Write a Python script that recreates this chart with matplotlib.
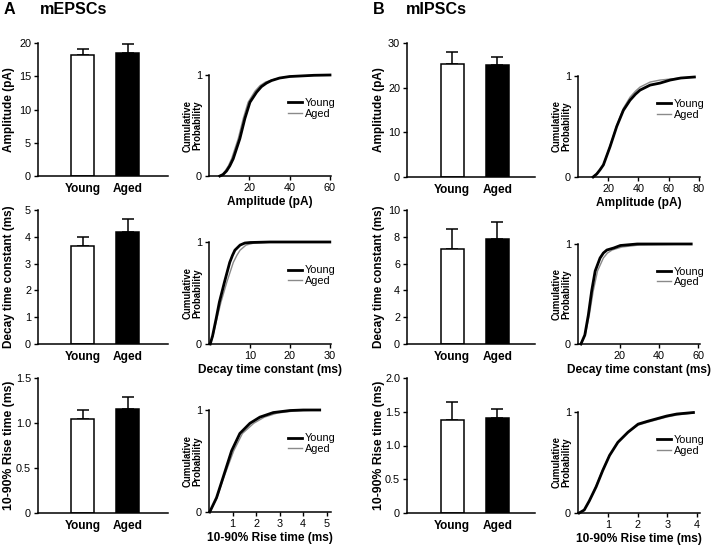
import matplotlib
matplotlib.use('Agg')
import matplotlib.pyplot as plt

plt.rcParams['font.family'] = ['Liberation Sans', 'DejaVu Sans']

groups = ['Young', 'Aged']

# bar graphs: mean and upper error (SEM)
epsc_amp = [18.2, 18.5]
epsc_amp_err = [0.9, 1.4]
epsc_decay = [3.65, 4.18]
epsc_decay_err = [0.33, 0.48]
epsc_rise = [1.04, 1.16]
epsc_rise_err = [0.10, 0.13]

ipsc_amp = [25.3, 25.0]
ipsc_amp_err = [2.7, 1.8]
ipsc_decay = [7.1, 7.8]
ipsc_decay_err = [1.45, 1.3]
ipsc_rise = [1.38, 1.41]
ipsc_rise_err = [0.27, 0.13]

# cumulative distributions
epsc_amp_young_x = [5.4, 7, 8.7, 10.3, 12, 15.3, 17.8, 20.3, 23.6, 26, 28.5, 31, 35, 40, 45, 52, 60]
epsc_amp_young_y = [0, 0.015, 0.05, 0.1, 0.17, 0.37, 0.57, 0.73, 0.83, 0.885, 0.92, 0.945, 0.97, 0.985, 0.99, 0.997, 1.0]
epsc_amp_aged_x = [5, 6.6, 8, 9.6, 11.2, 14.5, 17, 19.4, 22.8, 25.3, 28, 31, 35, 40, 45, 52, 60]
epsc_amp_aged_y = [0, 0.015, 0.05, 0.1, 0.17, 0.37, 0.57, 0.73, 0.84, 0.895, 0.93, 0.95, 0.97, 0.985, 0.99, 0.997, 1.0]

ipsc_amp_young_x = [10, 12.4, 14.5, 16.8, 21.2, 25.6, 30, 34.4, 38, 41, 47.7, 54.3, 61, 68, 77]
ipsc_amp_young_y = [0, 0.03, 0.07, 0.12, 0.30, 0.50, 0.66, 0.76, 0.82, 0.86, 0.91, 0.93, 0.96, 0.98, 0.99]
ipsc_amp_aged_x = [10, 12.4, 14.5, 16.8, 21.2, 25.6, 30, 34.4, 38, 41, 47.7, 54.3, 61, 68, 77]
ipsc_amp_aged_y = [0, 0.03, 0.07, 0.12, 0.31, 0.51, 0.68, 0.79, 0.85, 0.89, 0.94, 0.96, 0.97, 0.98, 0.99]

epsc_decay_young_x = [0, 0.6, 1.5, 2.3, 3.6, 4.9, 5.6, 6.2, 7.5, 8.7, 10, 15, 30]
epsc_decay_young_y = [0, 0.08, 0.25, 0.41, 0.61, 0.80, 0.87, 0.92, 0.97, 0.99, 0.995, 1.0, 1.0]
epsc_decay_aged_x = [0, 0.7, 1.7, 2.7, 4.2, 5.8, 6.7, 7.5, 9, 11, 15, 30]
epsc_decay_aged_y = [0, 0.08, 0.25, 0.41, 0.61, 0.80, 0.87, 0.92, 0.97, 0.99, 0.998, 1.0]

ipsc_decay_young_x = [0, 2, 3.8, 5.5, 7.3, 9.8, 11.5, 13.3, 16.8, 20.2, 28.8, 56.5]
ipsc_decay_young_y = [0, 0.09, 0.29, 0.53, 0.73, 0.86, 0.91, 0.94, 0.96, 0.985, 1.0, 1.0]
ipsc_decay_aged_x = [0, 2.2, 4.3, 6.3, 8.5, 11.5, 13.6, 16, 21, 30, 56.5]
ipsc_decay_aged_y = [0, 0.09, 0.29, 0.53, 0.73, 0.86, 0.91, 0.94, 0.97, 0.99, 1.0]

epsc_rise_young_x = [0.03, 0.32, 0.6, 0.96, 1.31, 1.74, 2.16, 2.73, 3.44, 4.0, 4.7]
epsc_rise_young_y = [0, 0.14, 0.34, 0.60, 0.77, 0.87, 0.93, 0.975, 0.995, 1.0, 1.0]
epsc_rise_aged_x = [0.03, 0.34, 0.63, 1.05, 1.42, 1.9, 2.35, 2.9, 3.6, 4.1, 4.7]
epsc_rise_aged_y = [0, 0.14, 0.34, 0.60, 0.77, 0.87, 0.93, 0.97, 0.99, 0.995, 1.0]

ipsc_rise_young_x = [0.04, 0.21, 0.38, 0.61, 0.83, 1.06, 1.34, 1.68, 2.02, 2.36, 2.98, 3.32, 3.88]
ipsc_rise_young_y = [0, 0.03, 0.12, 0.26, 0.42, 0.57, 0.70, 0.80, 0.88, 0.91, 0.96, 0.98, 0.995]
ipsc_rise_aged_x = [0.04, 0.21, 0.38, 0.61, 0.83, 1.06, 1.34, 1.68, 2.02, 2.36, 2.98, 3.32, 3.88]
ipsc_rise_aged_y = [0, 0.03, 0.12, 0.27, 0.43, 0.57, 0.70, 0.80, 0.87, 0.90, 0.95, 0.97, 0.99]

W, H = 720, 547
fig = plt.figure(figsize=(7.2, 5.47), dpi=100)


def px_axes(left, top, right, bottom):
    # axes placed by pixel edges of the reference
    return fig.add_axes([left / W, 1 - bottom / H, (right - left) / W, (bottom - top) / H])


def style(ax):
    for s in ['top', 'right']:
        ax.spines[s].set_visible(False)
    for s in ['left', 'bottom']:
        ax.spines[s].set_linewidth(1.1)
    ax.tick_params(direction='out', width=1.0, length=3, labelsize=7.8, pad=2)


def bar_panel(ax, vals, errs, ylim, yticks, yticklabels, ylabel, xlim, lsize=8.5):
    style(ax)
    ax.bar([0, 1], vals, width=0.51, color=['white', 'black'], edgecolor='black', linewidth=1.1, zorder=2)
    ax.errorbar([0, 1], vals, yerr=[[0, 0], errs], fmt='none', ecolor='black', elinewidth=1.1,
                capsize=4, capthick=1.1, zorder=1)
    ax.set_xlim(xlim)
    ax.set_ylim(ylim)
    ax.set_yticks(yticks)
    ax.set_yticklabels(yticklabels)
    ax.set_xticks([0, 1])
    ax.set_xticklabels(groups, fontweight='bold', fontsize=8.6)
    ax.tick_params(axis='x', length=0, pad=5)
    ax.set_ylabel(ylabel, fontweight='bold', fontsize=lsize)
    ax.yaxis.set_label_coords(-0.175, 0.5)


def cum_panel(ax, yx, yy, ax_, ay, xlim, xticks, xlabel):
    style(ax)
    line, = ax.plot(yx, yy, color='black', lw=2.0, clip_on=False, zorder=3)
    line.set_label('Young')
    line, = ax.plot(ax_, ay, color='#8a8a8a', lw=1.0, clip_on=False, zorder=2)
    line.set_label('Aged')
    ax.set_xlim(xlim)
    ax.set_ylim(0, 1)
    ax.set_xticks(xticks)
    ax.set_yticks([0, 1])
    ax.set_yticklabels(['0', '1'])
    ax.set_xlabel(xlabel, fontweight='bold', fontsize=8.6, labelpad=2)
    ax.set_ylabel('Cumulative\nProbability', fontweight='bold', fontsize=6.9, linespacing=1.0)
    ax.yaxis.set_label_coords(-0.055, 0.5)
    ax.legend(loc='center left', bbox_to_anchor=(0.6, 0.67), frameon=False, fontsize=7.8,
              handlelength=1.3, handletextpad=0.3, labelspacing=0.05, borderpad=0)


# column A: mEPSCs
ax = px_axes(38, 43, 168, 176)
bar_panel(ax, epsc_amp, epsc_amp_err, (0, 20), [0, 5, 10, 15, 20], ['0', '5', '10', '15', '20'],
          'Amplitude (pA)', (-0.99, 1.9))
ax = px_axes(38, 210, 168, 344)
bar_panel(ax, epsc_decay, epsc_decay_err, (0, 5), [0, 1, 2, 3, 4, 5], ['0', '1', '2', '3', '4', '5'],
          'Decay time constant (ms)', (-0.99, 1.9))
ax = px_axes(38, 378, 168, 513)
bar_panel(ax, epsc_rise, epsc_rise_err, (0, 1.5), [0, 0.5, 1.0, 1.5], ['0', '0.5', '1.0', '1.5'],
          '10-90% Rise time (ms)', (-0.99, 1.9), lsize=8.8)

ax = px_axes(209, 75, 331, 176)
cum_panel(ax, epsc_amp_young_x, epsc_amp_young_y, epsc_amp_aged_x, epsc_amp_aged_y,
          (0, 60.5), [20, 40, 60], 'Amplitude (pA)')
ax = px_axes(209, 242, 331, 344)
cum_panel(ax, epsc_decay_young_x, epsc_decay_young_y, epsc_decay_aged_x, epsc_decay_aged_y,
          (-0.3, 30.3), [10, 20, 30], 'Decay time constant (ms)')
ax = px_axes(209, 410, 331, 512)
cum_panel(ax, epsc_rise_young_x, epsc_rise_young_y, epsc_rise_aged_x, epsc_rise_aged_y,
          (0, 5.18), [1, 2, 3, 4, 5], '10-90% Rise time (ms)')

# column B: mIPSCs
ax = px_axes(407, 43, 535, 177)
bar_panel(ax, ipsc_amp, ipsc_amp_err, (0, 30), [0, 10, 20, 30], ['0', '10', '20', '30'],
          'Amplitude (pA)', (-1.0, 1.84))
ax = px_axes(407, 210, 535, 344)
bar_panel(ax, ipsc_decay, ipsc_decay_err, (0, 10), [0, 2, 4, 6, 8, 10], ['0', '2', '4', '6', '8', '10'],
          'Decay time constant (ms)', (-1.0, 1.84))
ax = px_axes(407, 378, 535, 513)
bar_panel(ax, ipsc_rise, ipsc_rise_err, (0, 2.0), [0, 0.5, 1.0, 1.5, 2.0], ['0', '0.5', '1.0', '1.5', '2.0'],
          '10-90% Rise time (ms)', (-1.0, 1.84), lsize=8.8)

ax = px_axes(578, 76, 700, 177)
cum_panel(ax, ipsc_amp_young_x, ipsc_amp_young_y, ipsc_amp_aged_x, ipsc_amp_aged_y,
          (0, 80.7), [20, 40, 60, 80], 'Amplitude (pA)')
ax = px_axes(578, 244, 700, 344)
cum_panel(ax, ipsc_decay_young_x, ipsc_decay_young_y, ipsc_decay_aged_x, ipsc_decay_aged_y,
          (-1.5, 61), [20, 40, 60], 'Decay time constant (ms)')
ax = px_axes(578, 412, 700, 513)
cum_panel(ax, ipsc_rise_young_x, ipsc_rise_young_y, ipsc_rise_aged_x, ipsc_rise_aged_y,
          (0, 4.1), [1, 2, 3, 4], '10-90% Rise time (ms)')

fig.text(4 / W, 1 - 10 / H, 'A', fontsize=11.6, fontweight='bold', va='center')
fig.text(40 / W, 1 - 10 / H, 'mEPSCs', fontsize=11.6, fontweight='bold', va='center')
fig.text(373 / W, 1 - 10 / H, 'B', fontsize=11.6, fontweight='bold', va='center')
fig.text(406 / W, 1 - 10 / H, 'mIPSCs', fontsize=11.6, fontweight='bold', va='center')

fig.savefig('out.png', dpi=100)
